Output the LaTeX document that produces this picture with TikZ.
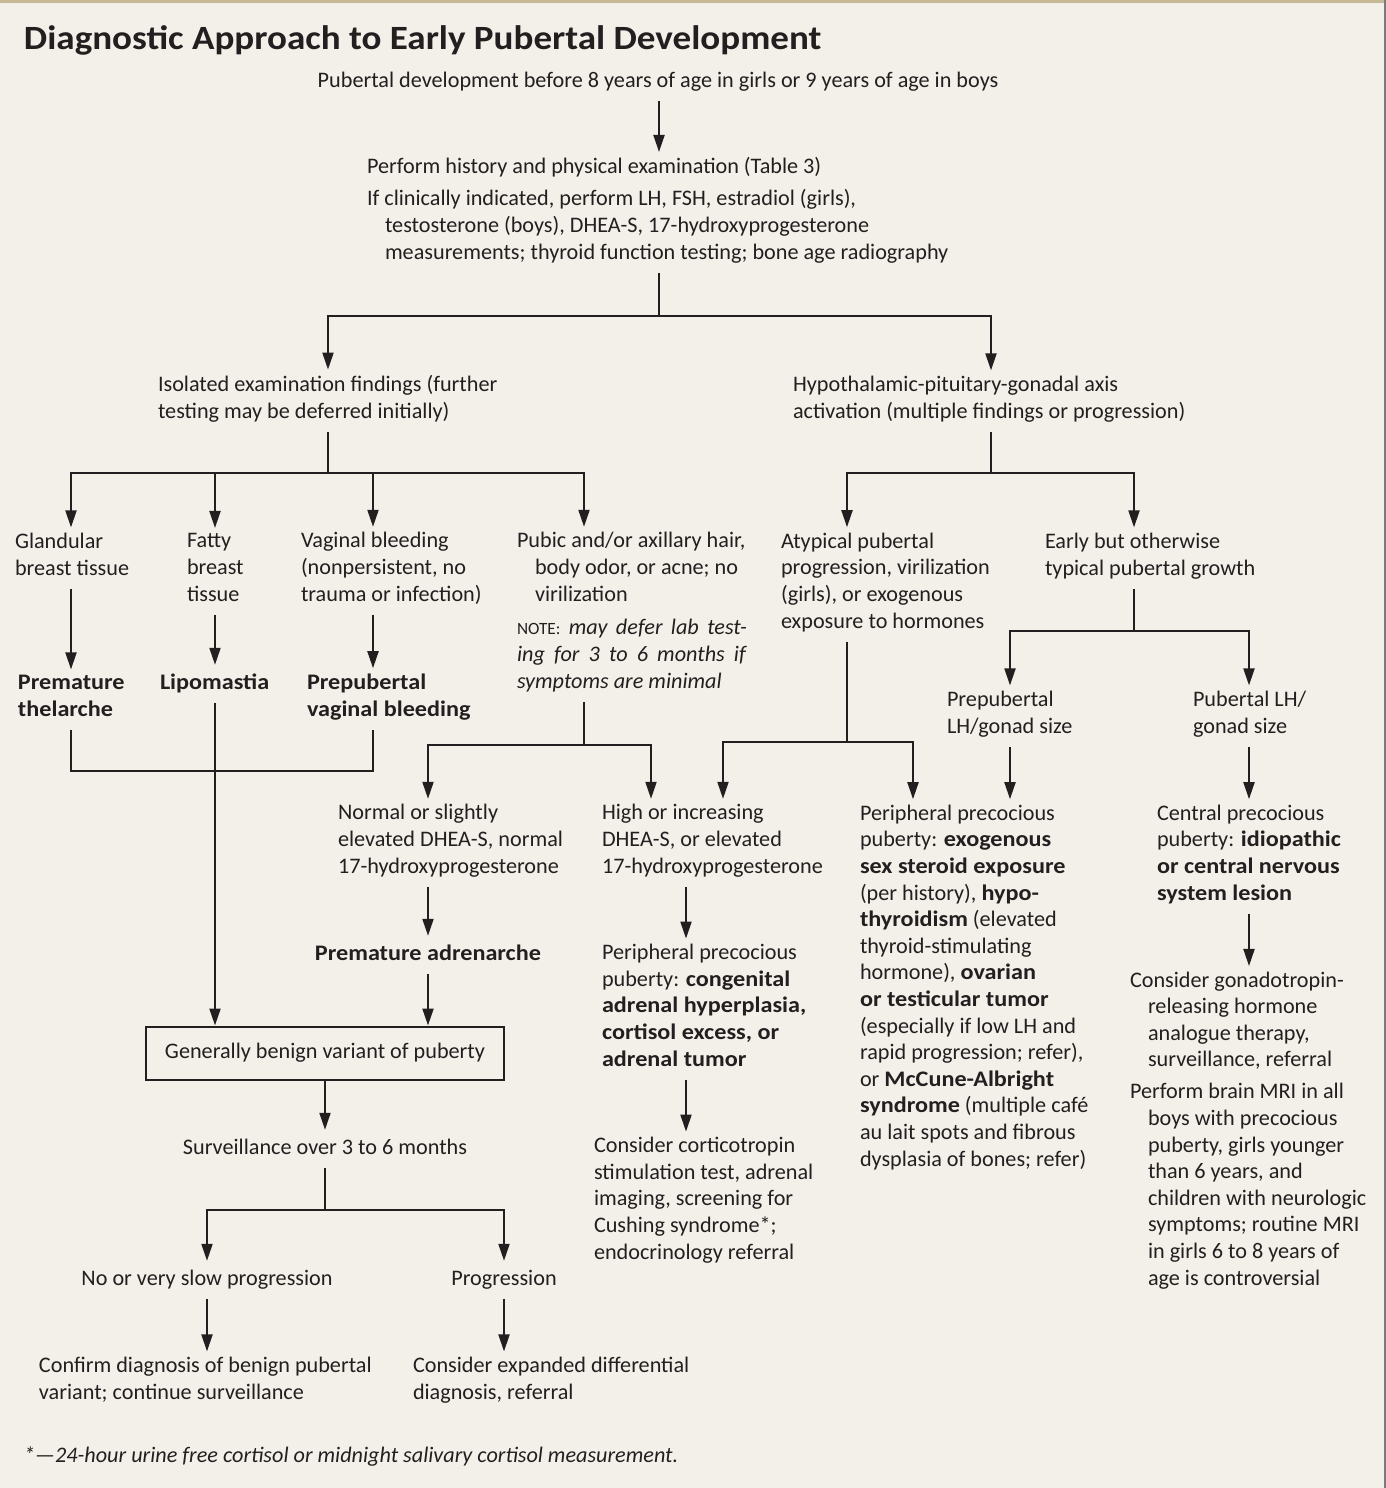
\documentclass[tikz,border=0pt]{standalone}
\usepackage{fontspec}
\setmainfont{Carlito}[BoldFeatures={FakeStretch=1.09}]
\usetikzlibrary{arrows.meta}
\definecolor{bgc}{RGB}{243,240,233}
\definecolor{ink}{RGB}{35,31,32}
\definecolor{rim}{RGB}{200,185,150}
\newcommand{\body}{\fontsize{11.1pt}{13.3pt}\selectfont}
\newcommand{\indl}{\hspace*{9pt}}
\newcommand{\smallnote}{{\fontsize{8.6pt}{10pt}\selectfont NOTE:}}

\begin{document}
\begin{tikzpicture}[x=0.5pt, y=-0.5pt, line width=1pt, draw=ink,
    txt/.style={inner sep=0pt, outer xsep=0pt, outer ysep=2.8pt, align=left, font=\body, text=ink,
        execute at begin node=\strut, execute at end node=\strut},
    arr/.style={-{Triangle[length=8.5pt,width=5.5pt]}}]
        % 背景
        \useasboundingbox (0,0) rectangle (1386,1488);
        \fill[bgc] (0,0) rectangle (1386,1488);
        \fill[rim] (0,0) rectangle (1386,3);
        \fill[ink!60] (1384,0) rectangle (1386,1488);

        % ノードの配置 (base = 最終行のベースライン)
        \node[txt, anchor=base west, font=\fontsize{17pt}{20pt}\selectfont\bfseries] (title) at (24,49) {Diagnostic Approach to Early Pubertal Development};
        \node[txt, anchor=base] (start) at (658,87) {Pubertal development before 8 years of age in girls or 9 years of age in boys};
        \node[txt, anchor=base west] (exam) at (367,259) {Perform history and physical examination (Table 3)\\[2.7pt]
            If clinically indicated, perform LH, FSH, estradiol (girls),\\
            \indl testosterone (boys), DHEA-S, 17-hydroxyprogesterone\\
            \indl measurements; thyroid function testing; bone age radiography};

        \node[txt, anchor=base west] (iso) at (158,418) {Isolated examination findings (further\\testing may be deferred initially)};
        \node[txt, anchor=base west] (hpg) at (793,418) {Hypothalamic-pituitary-gonadal axis\\activation (multiple findings or progression)};

        \node[txt, anchor=base west] (gland) at (15,575) {Glandular\\breast tissue};
        \node[txt, anchor=base west] (fatty) at (187,601) {Fatty\\breast\\tissue};
        \node[txt, anchor=base west] (vag) at (301,601) {Vaginal bleeding\\(nonpersistent, no\\trauma or infection)};
        \node[txt, anchor=base west] (pubic) at (517,601) {Pubic and/or axillary hair,\\\indl body odor, or acne; no\\\indl virilization};
        \node[txt, anchor=base west] (note) at (517,688) {\makebox[115pt][s]{\smallnote{} \textit{may defer lab test-}}\\
            \makebox[115pt][s]{\textit{ing for 3 to 6 months if}}\\
            \textit{symptoms are minimal}};
        \node[txt, anchor=base west] (atyp) at (781,628) {Atypical pubertal\\progression, virilization\\(girls), or exogenous\\exposure to hormones};
        \node[txt, anchor=base west] (early) at (1045,575) {Early but otherwise\\typical pubertal growth};

        \node[txt, anchor=base west, font=\body\bfseries] (premthel) at (18,716) {Premature\\thelarche};
        \node[txt, anchor=base west, font=\body\bfseries] (lipo) at (160,689) {Lipomastia};
        \node[txt, anchor=base west, font=\body\bfseries] (prepvag) at (307,716) {Prepubertal\\vaginal bleeding};
        \node[txt, anchor=base west] (prepLH) at (947,733) {Prepubertal\\LH/gonad size};
        \node[txt, anchor=base west] (pubLH) at (1193,733) {Pubertal LH/\\gonad size};

        \node[txt, anchor=base west] (normal) at (338,873) {Normal or slightly\\elevated DHEA-S, normal\\17-hydroxyprogesterone};
        \node[txt, anchor=base west] (high) at (602,873) {High or increasing\\DHEA-S, or elevated\\17-hydroxyprogesterone};
        \node[txt, anchor=base west] (periph) at (860,1166) {Peripheral precocious\\
            puberty: \textbf{exogenous}\\
            \textbf{sex steroid exposure}\\
            (per history), \textbf{hypo-}\\
            \textbf{thyroidism} (elevated\\
            thyroid-stimulating\\
            hormone), \textbf{ovarian}\\
            \textbf{or testicular tumor}\\
            (especially if low LH and\\
            rapid progression; refer),\\
            or \textbf{McCune-Albright}\\
            \textbf{syndrome} (multiple café\\
            au lait spots and fibrous\\
            dysplasia of bones; refer)};
        \node[txt, anchor=base west] (central) at (1157,900) {Central precocious\\puberty: \textbf{idiopathic}\\\textbf{or central nervous}\\\textbf{system lesion}};

        \node[txt, anchor=base, font=\body\bfseries] (premadr) at (428,960) {Premature adrenarche};
        \node[txt, anchor=base west] (ppcah) at (602,1066) {Peripheral precocious\\puberty: \textbf{congenital}\\\textbf{adrenal hyperplasia,}\\\textbf{cortisol excess, or}\\\textbf{adrenal tumor}};
        \node[txt, anchor=base west] (gnrh) at (1130,1285) {Consider gonadotropin-\\
            \indl releasing hormone\\
            \indl analogue therapy,\\
            \indl surveillance, referral\\[2.7pt]
            Perform brain MRI in all\\
            \indl boys with precocious\\
            \indl puberty, girls younger\\
            \indl than 6 years, and\\
            \indl children with neurologic\\
            \indl symptoms; routine MRI\\
            \indl in girls 6 to 8 years of\\
            \indl age is controversial};

        \node[txt, draw, outer sep=0.5pt, minimum width=179pt, minimum height=26.5pt, align=center] (benign) at (325,1053) {Generally benign variant of puberty};
        \node[txt, anchor=base west] (ctst) at (594,1259) {Consider corticotropin\\stimulation test, adrenal\\imaging, screening for\\Cushing syndrome*;\\endocrinology referral};
        \node[txt, anchor=base] (surv) at (325,1154) {Surveillance over 3 to 6 months};
        \node[txt, anchor=base] (noprog) at (207,1285) {No or very slow progression};
        \node[txt, anchor=base] (prog) at (504,1285) {Progression};
        \node[txt, anchor=base west] (confirm) at (39,1399) {Confirm diagnosis of benign pubertal\\variant; continue surveillance};
        \node[txt, anchor=base west] (expand) at (413,1399) {Consider expanded differential\\diagnosis, referral};
        \node[txt, anchor=base west, font=\body\itshape] (foot) at (24,1462) {*---24-hour urine free cortisol or midnight salivary cortisol measurement.};

        % 矢印の描画
        \draw[arr] (start.south -| 659,0) -- (exam.north -| 659,0);
        \draw (exam.south -| 659,0) -- (659,316);
        \draw[arr] (659,316) -| (iso.north -| 328,0);
        \draw[arr] (659,316) -| (hpg.north -| 991,0);

        \draw (iso.south -| 328,0) -- (328,473);
        \foreach \x/\n in {71/gland, 215/fatty, 373/vag, 584/pubic} {
            \draw[arr] (328,473) -| (\n.north -| \x,0);
        }
        \draw (hpg.south -| 991,0) -- (991,473);
        \foreach \x/\n in {847/atyp, 1134/early} {
            \draw[arr] (991,473) -| (\n.north -| \x,0);
        }

        \draw[arr] (gland.south -| 71,0) -- (premthel.north -| 71,0);
        \draw[arr] (fatty.south -| 215,0) -- (lipo.north -| 215,0);
        \draw[arr] (vag.south -| 373,0) -- (prepvag.north -| 373,0);
        \draw (premthel.south -| 71,0) |- (373,771) -- (prepvag.south -| 373,0);
        \draw[arr] (lipo.south -| 215,0) -- (benign.north -| 215,0);

        \draw (note.south -| 584,0) -- (584,745);
        \draw[arr] (584,745) -| (normal.north -| 428,0);
        \draw[arr] (584,745) -| (high.north -| 651,0);
        \draw (atyp.south -| 847,0) -- (847,742);
        \draw[arr] (847,742) -| (high.north -| 723,0);
        \draw[arr] (847,742) -| (periph.north -| 913,0);

        \draw (early.south -| 1134,0) -- (1134,631);
        \draw[arr] (1134,631) -| (prepLH.north -| 1010,0);
        \draw[arr] (1134,631) -| (pubLH.north -| 1249,0);
        \draw[arr] (prepLH.south -| 1010,0) -- (periph.north -| 1010,0);
        \draw[arr] (pubLH.south -| 1249,0) -- (central.north -| 1249,0);

        \draw[arr] (normal.south -| 428,0) -- (premadr.north -| 428,0);
        \draw[arr] (premadr.south -| 428,0) -- (benign.north -| 428,0);
        \draw[arr] (high.south -| 686,0) -- (ppcah.north -| 686,0);
        \draw[arr] (ppcah.south -| 686,0) -- (ctst.north -| 686,0);
        \draw[arr] (central.south -| 1249,0) -- (gnrh.north -| 1249,0);

        \draw[arr] (benign.south -| 325,0) -- (surv.north -| 325,0);
        \draw (surv.south -| 325,0) -- (325,1210);
        \draw[arr] (325,1210) -| (noprog.north -| 207,0);
        \draw[arr] (325,1210) -| (prog.north -| 504,0);
        \draw[arr] (noprog.south -| 207,0) -- (confirm.north -| 207,0);
        \draw[arr] (prog.south -| 504,0) -- (expand.north -| 504,0);
    \end{tikzpicture}
\end{document}
